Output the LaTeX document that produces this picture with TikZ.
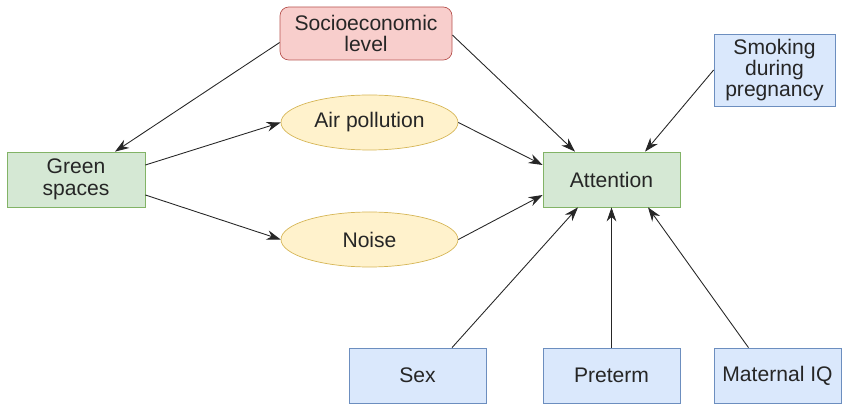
\documentclass[tikz,border=0pt]{standalone}
\usepackage{fontspec}
\setmainfont{Liberation Sans}
\usetikzlibrary{calc, shapes, positioning, arrows.meta}
\definecolor{redfill}{HTML}{F8CECC}
\definecolor{redline}{HTML}{B85450}
\definecolor{greenfill}{HTML}{D5E8D4}
\definecolor{greenline}{HTML}{82B366}
\definecolor{yellowfill}{HTML}{FFF2CC}
\definecolor{yellowline}{HTML}{D6B656}
\definecolor{bluefill}{HTML}{DAE8FC}
\definecolor{blueline}{HTML}{6C8EBF}
\tikzset{
    base box/.style = {rectangle, inner sep=0pt, align=center, font=\fontsize{12}{12.2}\selectfont, text=black!85},
    ses box/.style = {base box, rounded corners=5pt, draw=redline, fill=redfill, minimum width=3.44cm, minimum height=1.06cm},
    green box/.style = {base box, draw=greenline, fill=greenfill, minimum width=2.76cm, minimum height=1.10cm},
    path box/.style = {base box, ellipse, draw=yellowline, fill=yellowfill, minimum width=3.54cm, minimum height=1.10cm},
    cov box/.style = {base box, draw=blueline, fill=bluefill, minimum width=2.74cm, minimum height=1.10cm},
    link/.style = {draw=black!85, line width=0.5pt, -{Stealth[length=8pt, width=5.5pt]}}
}
\begin{document}
\begin{tikzpicture}
        \useasboundingbox (0,0) rectangle (16.86,-8.12);
        \node[ses box] (ses) at (7.32,-0.67) {Socioeconomic\\level};
        \node[green box] (green) at (1.52,-3.59) {Green\\spaces};
        \node[path box] (air) at (7.39,-2.45) {Air pollution};
        \node[path box] (noise) at (7.39,-4.79) {Noise};
        \node[green box, minimum width=2.74cm] (att) at (12.23,-3.59) {Attention};
        \node[cov box, minimum width=2.42cm, minimum height=1.44cm] (smoke) at (15.49,-1.40) {Smoking\\during\\pregnancy};
        \node[cov box] (sex) at (8.35,-7.51) {Sex};
        \node[cov box] (preterm) at (12.23,-7.51) {Preterm};
        \node[cov box, minimum width=2.54cm] (miq) at (15.55,-7.51) {Maternal IQ};

        \draw[link] ([yshift=-0.18cm]ses.west) -- ([xshift=0.78cm]green.north);
        \draw[link] ([yshift=-0.03cm]ses.east) -- ([xshift=-0.73cm]att.north);
        \draw[link] ([yshift=0.29cm]green.east) -- (air.west);
        \draw[link] ([yshift=-0.31cm]green.east) -- (noise.west);
        \draw[link] (air.east) -- ([yshift=0.29cm]att.west);
        \draw[link] (noise.east) -- ([yshift=-0.31cm]att.west);
        \draw[link] (smoke.west) -- ([xshift=0.67cm]att.north);
        \draw[link] ([xshift=0.69cm]sex.north) -- ([xshift=-0.67cm]att.south);
        \draw[link] (preterm.north) -- (att.south);
        \draw[link] ([xshift=-0.58cm]miq.north) -- ([xshift=0.73cm]att.south);
    \end{tikzpicture}
\end{document}
